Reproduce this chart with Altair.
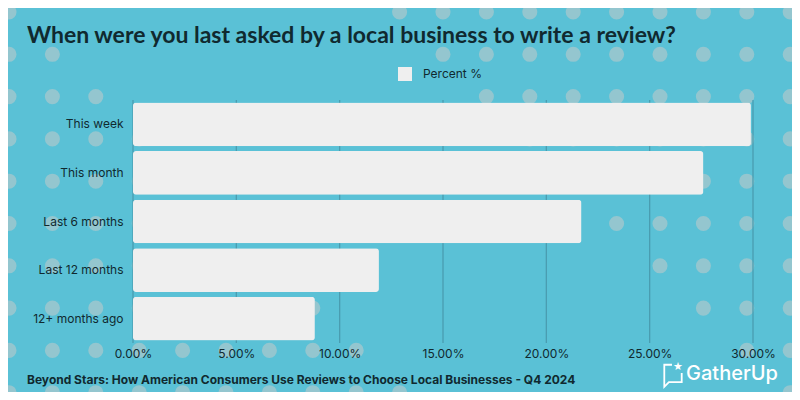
import altair as alt
import pandas as pd

# ---- data ----
categories = ["This week", "This month", "Last 6 months", "Last 12 months", "12+ months ago"]
percent = [29.9, 27.6, 21.7, 11.9, 8.8]
series_name = ["Percent %"] * len(categories)
tick_values = [0, 5, 10, 15, 20, 25, 30]
title_text = ["When were you last asked by a local business to write a review?"]
footer_text = ["Beyond Stars: How American Consumers Use Reviews to Choose Local Businesses - Q4 2024"]
brand_text = ["GatherUp"]

# ---- style ----
BG = "#5ac1d6"
DOT = "#94c6cf"
GRID = "#4a9db0"
BAR = "#efefef"
INK = "#10292f"
W, H = 620, 243

# decorative polka-dot background (pixel offsets relative to plot origin)
dots = []
for r in range(10):
    for c in range(19):
        if r + 1 <= c <= r + 8:
            continue
        dots.append({"px": 9 + 43.4 * c - 133, "py": 12 + 42.3 * r - 100})
dots_df = pd.DataFrame(dots)

df = pd.DataFrame({"category": categories, "percent": percent, "series": series_name})
ticks_df = pd.DataFrame({"tick": tick_values})

x_scale = alt.Scale(domain=[0, 30], nice=False)

dot_layer = alt.Chart(dots_df).mark_circle(color=DOT, opacity=1, size=227).encode(
    x=alt.X("px:Q", scale=None, axis=None),
    y=alt.Y("py:Q", scale=None, axis=None),
)

grid_layer = alt.Chart(ticks_df).mark_rule(color=GRID, strokeWidth=1.3).encode(
    x=alt.X("tick:Q", scale=x_scale, axis=None),
)

bars = alt.Chart(df).mark_bar(cornerRadius=3).encode(
    y=alt.Y(
        "category:N",
        sort=categories,
        scale=alt.Scale(paddingInner=0.1, paddingOuter=0.05),
        axis=alt.Axis(title=None, ticks=False, tickSize=0, domain=False, grid=False,
                      labelPadding=10, labelFont="Inter", labelFontSize=12,
                      labelColor=INK, zindex=2),
    ),
    x=alt.X(
        "percent:Q",
        scale=x_scale,
        axis=alt.Axis(title=None, values=tick_values, grid=False, ticks=False, tickSize=0,
                      domain=False, labelPadding=5, labelFont="Inter", labelFontSize=12,
                      labelColor=INK, zindex=2, labelFlush=False, labelOverlap=False,
                      labelExpr="format(datum.value, '.2f') + '%'"),
    ),
    color=alt.Color(
        "series:N",
        scale=alt.Scale(range=[BAR]),
        legend=alt.Legend(title=None, orient="none", legendX=265, legendY=-33,
                          symbolType="square", symbolSize=196, symbolStrokeWidth=0,
                          labelFont="Inter", labelFontSize=12, labelColor=INK,
                          labelOffset=11, zindex=2),
    ),
)

title_layer = alt.Chart(pd.DataFrame({"t": title_text})).mark_text(
    align="left", baseline="alphabetic", font="Lato", fontWeight="bold",
    fontSize=23, color=INK,
).encode(text="t:N", x=alt.value(-106), y=alt.value(-57))

footer_layer = alt.Chart(pd.DataFrame({"t": footer_text})).mark_text(
    align="left", baseline="alphabetic", font="Inter", fontWeight="bold",
    fontSize=12, color=INK,
).encode(text="t:N", x=alt.value(-106), y=alt.value(284))

brand_layer = alt.Chart(pd.DataFrame({"t": brand_text})).mark_text(
    align="left", baseline="alphabetic", font="Inter", fontWeight=500,
    fontSize=20, color="white",
).encode(text="t:N", x=alt.value(553), y=alt.value(280))

bubble_layer = alt.Chart(pd.DataFrame({"t": brand_text})).mark_point(
    shape="M -0.1 -1 L -0.85 -1 L -0.85 1.15 L -0.4 0.7 L 0.85 0.7 L 0.85 -0.2",
    filled=False, stroke="white", strokeWidth=1.8, size=420, opacity=1,
).encode(x=alt.value(540), y=alt.value(275))

star_layer = alt.Chart(pd.DataFrame({"t": ["★"]})).mark_text(
    align="center", baseline="middle", fontSize=11, color="white", font="DejaVu Sans",
).encode(text="t:N", x=alt.value(545), y=alt.value(267))

chart = alt.layer(
    dot_layer, grid_layer, bars, title_layer, footer_layer, brand_layer, bubble_layer, star_layer
).resolve_scale(x="independent", y="independent").properties(
    width=W, height=H,
    autosize=alt.AutoSizeParams(type="none"),
    padding={"left": 125, "top": 92, "right": 39, "bottom": 49},
).configure(background=BG).configure_view(stroke=None)

chart.save("out.html", embed_options={"renderer": "svg", "actions": False})
